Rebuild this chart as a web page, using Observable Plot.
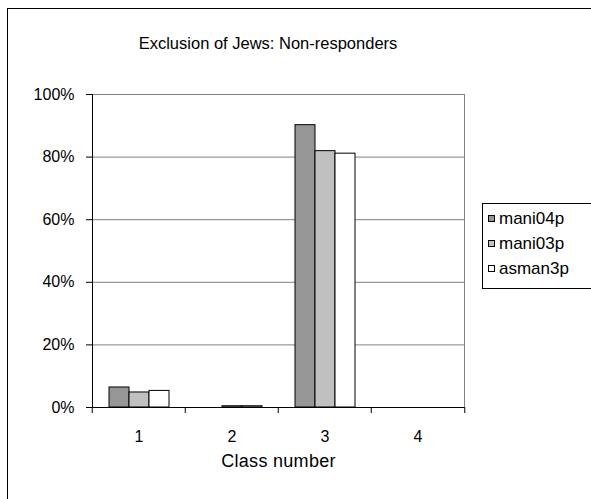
<!DOCTYPE html>
<html>
<head>
<meta charset="utf-8">
<script src="https://cdn.jsdelivr.net/npm/d3@7"></script>
<script src="https://cdn.jsdelivr.net/npm/@observablehq/plot@0.6"></script>
<style>
  html, body { margin: 0; padding: 0; background: #fff; }
  body { width: 591px; height: 499px; overflow: hidden; position: relative; font-family: "Liberation Sans", Arial, sans-serif; }
  #outer { position: absolute; left: 7px; top: 8px; width: 700px; height: 700px; border: 1px solid #000; box-sizing: border-box; }
  #title { position: absolute; left: 0; width: 536px; top: 34px; text-align: center; font-size: 16.5px; color: #000; }
  #xlabel { position: absolute; left: 0; width: 557px; top: 451px; text-align: center; font-size: 18px; letter-spacing: 0.3px; color: #000; }
  #legend { position: absolute; left: 482px; top: 203px; width: 140px; height: 86px; border: 1px solid #000; box-sizing: border-box; background: #fff; }
  .item { position: absolute; left: 5px; font-size: 17px; line-height: 17px; color: #000; white-space: nowrap; }
  .sw { display: inline-block; width: 5px; height: 5px; border: 1px solid #000; margin-right: 4px; vertical-align: 2px; }
  #chart { position: absolute; left: 0; top: 0; }
</style>
</head>
<body>
<div id="outer"></div>
<div id="title">Exclusion of Jews: Non-responders</div>
<div id="chart"></div>
<div id="xlabel">Class number</div>
<div id="legend"></div>
<script>
const classes = ["1", "2", "3", "4"];
const seriesNames = ["mani04p", "mani03p", "asman3p"];
const mani04p = [0.064, 0.000, 0.902, 0.000];
const mani03p = [0.048, 0.004, 0.819, 0.000];
const asman3p = [0.053, 0.004, 0.811, 0.000];
const seriesColors = ["#969696", "#c0c0c0", "#ffffff"];
const yTicks = [0, 0.2, 0.4, 0.6, 0.8, 1.0];

const seriesValues = [mani04p, mani03p, asman3p];
const data = [];
classes.forEach((c, i) => seriesNames.forEach((s, j) => {
  data.push({cls: c, series: s, value: seriesValues[j][i]});
}));

const plot = Plot.plot({
  width: 591,
  height: 499,
  marginLeft: 91,
  marginRight: 126,
  marginTop: 94,
  marginBottom: 92,
  style: {fontFamily: "'Liberation Sans', Arial, sans-serif", fontSize: "16px", background: "transparent", color: "#000", overflow: "visible"},
  fx: {domain: classes, padding: 0, label: null},
  x: {domain: seriesNames, paddingInner: 0, paddingOuter: 0.75, axis: null},
  y: {domain: [0, 1], axis: null, label: null},
  color: {domain: seriesNames, range: seriesColors},
  marks: [
    Plot.dot(data, {fx: "cls", x: "series", y: "value", r: 0, stroke: "none", fill: "none"}),
    Plot.ruleY(yTicks.slice(1), {stroke: "#808080", strokeWidth: 1, strokeOpacity: 1}),
    Plot.frame({anchor: "right", facetAnchor: "right", stroke: "#808080", strokeOpacity: 1}),
    Plot.barY(data.filter(d => d.value > 0), {fx: "cls", x: "series", y: "value", fill: "series", stroke: "#000", strokeWidth: 1}),
    Plot.ruleY([0], {stroke: "#000", strokeWidth: 1}),
    Plot.frame({anchor: "left", facetAnchor: "left", stroke: "#000", strokeOpacity: 1}),
    Plot.axisY({ticks: yTicks, tickFormat: d3.format(".0%"), tickSize: 6, tickPadding: 12, label: null, stroke: "#000", strokeOpacity: 1}),
    Plot.axisFx({anchor: "bottom", ticks: classes, tickSize: 0, tickPadding: 23, label: null}),
    Plot.axisFx({anchor: "bottom", ticks: classes, tickSize: 6, tickFormat: () => "", dx: -46.75, label: null, strokeOpacity: 1}),
    Plot.axisFx({anchor: "bottom", ticks: ["4"], tickSize: 6, tickFormat: () => "", dx: 46.75, label: null, strokeOpacity: 1})
  ]
});
document.getElementById("chart").appendChild(plot);

const legend = document.getElementById("legend");
seriesNames.forEach((s, i) => {
  const item = document.createElement("div");
  item.className = "item";
  item.style.top = (6 + i * 25) + "px";
  const sw = document.createElement("span");
  sw.className = "sw";
  sw.style.background = seriesColors[i];
  item.appendChild(sw);
  item.appendChild(document.createTextNode(s));
  legend.appendChild(item);
});
</script>
</body>
</html>
